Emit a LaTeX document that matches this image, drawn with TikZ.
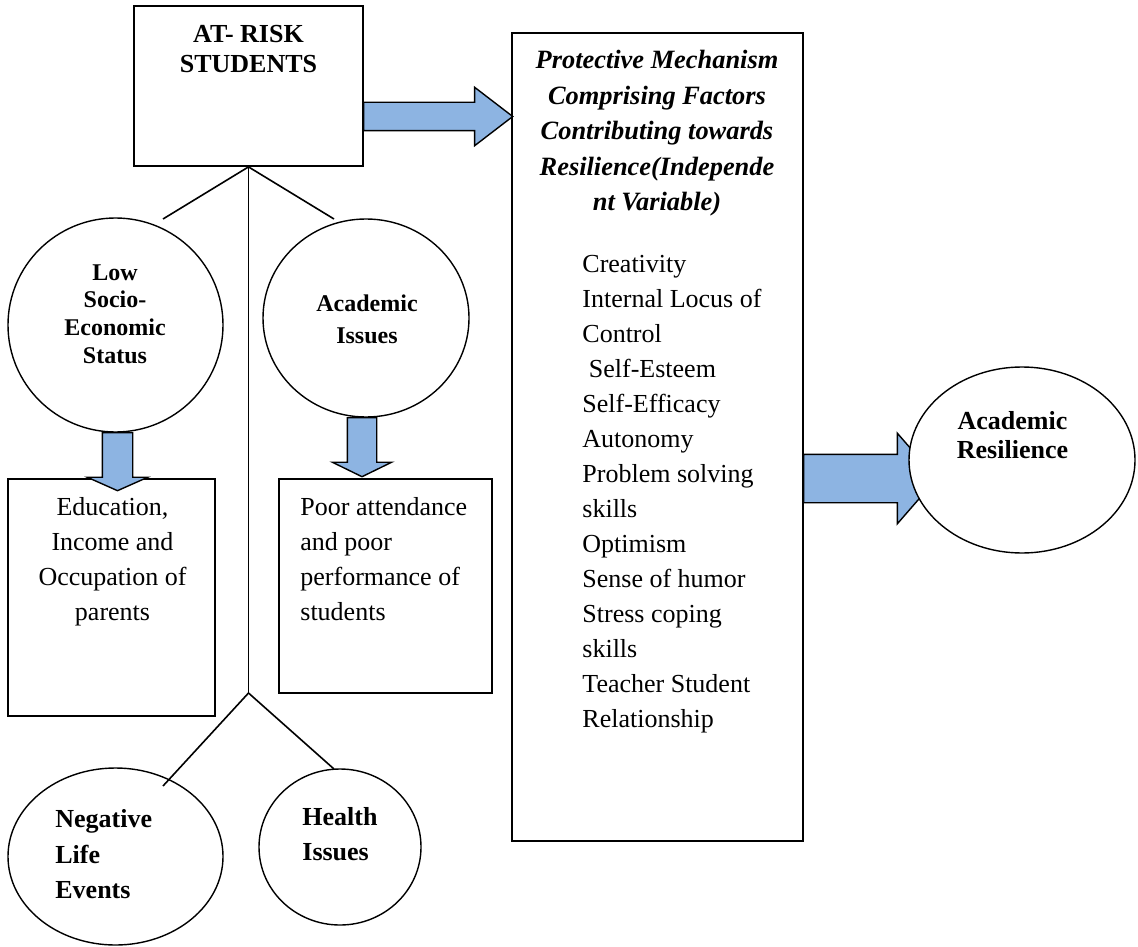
\documentclass[tikz,border=0pt]{standalone}
\usepackage{fontspec}
\setmainfont{Liberation Serif}
\usetikzlibrary{shapes.geometric,shapes.arrows}
\definecolor{arrowblue}{RGB}{141,180,226}

\begin{document}
\begin{tikzpicture}[x=0.5pt,y=-0.5pt,
    box/.style={draw, line width=0.9pt, inner sep=0pt},
    oval/.style={draw, ellipse, line width=0.7pt, inner sep=0pt},
    blockarrow/.style={single arrow, draw, fill=arrowblue, line width=0.7pt, anchor=tail,
        inner xsep=0pt, minimum width=0pt, single arrow head indent=0pt},
    bodytext/.style={inner sep=0pt, font=\fontsize{13}{17.5}\selectfont},
    boldtext/.style={inner sep=0pt, font=\bfseries\fontsize{13}{17.5}\selectfont}]

    \useasboundingbox (0,0) rectangle (1138,946);

    % boxes
    \node[box, minimum width=114.5pt, minimum height=80pt]  (risk) at (248.5,86)  {};
    \node[box, minimum width=145.5pt, minimum height=404pt] (prot) at (657.5,437) {};
    \node[box, minimum width=103.5pt, minimum height=118.5pt] (edu) at (111.5,597.5) {};
    \node[box, minimum width=106.5pt, minimum height=107pt] (poor) at (385.5,586) {};

    % circles
    \node[oval, minimum width=107.5pt, minimum height=107pt] (ses)    at (115.5,325)   {};
    \node[oval, minimum width=103pt,   minimum height=99pt]  (acad)   at (366,318)     {};
    \node[oval, minimum width=107.5pt, minimum height=88.5pt] (neg)   at (115.5,856.5) {};
    \node[oval, minimum width=81pt,    minimum height=78pt]  (health) at (340,847)     {};

    % branch lines
    \coordinate (sesend)    at (163,219);
    \coordinate (acadend)   at (334,219);
    \coordinate (fork)      at (248.5,693);
    \coordinate (negend)    at (163,786);
    \coordinate (healthend) at (334,769);
    \draw[line width=0.8pt] (risk.south) -- (sesend);
    \draw[line width=0.8pt] (risk.south) -- (acadend);
    \draw[line width=0.8pt] (risk.south) -- (fork);
    \draw[line width=0.8pt] (fork) -- (negend);
    \draw[line width=0.8pt] (fork) -- (healthend);

    % block arrows
    \node[blockarrow, inner ysep=6.75pt, single arrow head extend=7.5pt,
          single arrow tip angle=75, minimum height=74.5pt] (arrprot) at (363,116.5) {};
    \node[blockarrow, rotate=-90, inner ysep=7.25pt, single arrow head extend=7.5pt,
          single arrow tip angle=132, minimum height=29pt] (arrses) at (117.5,432) {};
    \node[blockarrow, rotate=-90, inner ysep=7pt, single arrow head extend=7.5pt,
          single arrow tip angle=128, minimum height=29.5pt] (arracad) at (362,417) {};
    \node[blockarrow, inner ysep=11.75pt, single arrow head extend=10.5pt,
          single arrow tip angle=98, minimum height=66.5pt] (arrresil) at (803,478.5) {};

    \node[oval, fill=white, minimum width=113pt, minimum height=93pt] (resil) at (1022,460) {};

    % texts
    \node[boldtext, font=\bfseries\fontsize{13}{15}\selectfont, align=center, anchor=north]
        (riskT) at (248.5,25) {AT- RISK\\STUDENTS};
    \node[boldtext, font=\bfseries\itshape\fontsize{13.2}{17.75}\selectfont, align=center, anchor=north]
        (protT) at (657,50) {Protective Mechanism\\Comprising Factors\\Contributing towards\\Resilience(Independe\\nt Variable)};
    \node[bodytext, align=left, anchor=north west] (listT) at (582,254.5)
        {Creativity\\Internal Locus of\\Control\\\hspace*{3.25pt}Self-Esteem\\Self-Efficacy\\Autonomy\\Problem solving\\skills\\Optimism\\Sense of humor\\Stress coping\\skills\\Teacher Student\\Relationship};
    \node[boldtext, font=\bfseries\fontsize{12}{13.85}\selectfont, align=center, anchor=north]
        (sesT) at (115,264) {Low\\Socio-\\Economic\\Status};
    \node[boldtext, font=\bfseries\fontsize{12}{16}\selectfont, align=center, anchor=north]
        (acadT) at (367,294) {Academic\\Issues};
    \node[bodytext, align=center, anchor=north] (eduT) at (112.5,497)
        {Education,\\Income and\\Occupation of\\parents};
    \node[bodytext, align=left, anchor=north west] (poorT) at (300,497)
        {Poor attendance\\and poor\\performance of\\students};
    \node[boldtext, font=\bfseries\fontsize{13}{17.75}\selectfont, align=left, anchor=north west]
        (negT) at (55,809.5) {Negative\\Life\\Events};
    \node[boldtext, align=left, anchor=north west] (healthT) at (302,807) {Health\\Issues};
    \node[boldtext, font=\bfseries\fontsize{13}{14.5}\selectfont, align=center, anchor=north]
        (resilT) at (1012.5,411) {Academic\\Resilience};
\end{tikzpicture}
\end{document}
